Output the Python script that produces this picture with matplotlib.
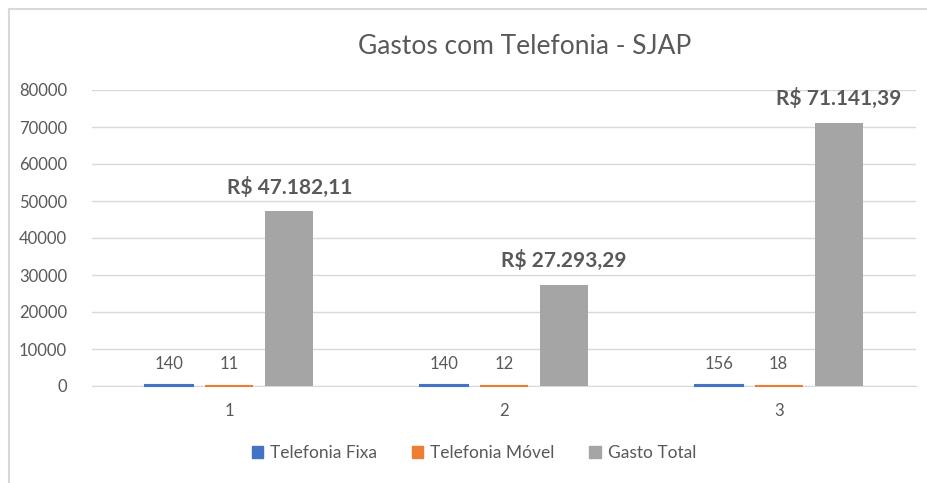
import numpy as np
import matplotlib
matplotlib.use("Agg")
import matplotlib.pyplot as plt
from matplotlib.lines import Line2D

plt.rcParams['font.family'] = ['Lato', 'DejaVu Sans']

categorias = ['1', '2', '3']
series = ['Telefonia Fixa', 'Telefonia Móvel', 'Gasto Total']
fixa = [140, 140, 156]
movel = [11, 12, 18]
total = [47182.11, 27293.29, 71141.39]
rotulos_total = ['R$ 47.182,11', 'R$ 27.293,29', 'R$ 71.141,39']
cores = ['#4472C4', '#ED7D31', '#A5A5A5']
yticks = [0, 10000, 20000, 30000, 40000, 50000, 60000, 70000, 80000]

cinza_txt = '#595959'

fig = plt.figure(figsize=(9.28, 4.83), dpi=100)
W, H = 928, 483
ax = fig.add_axes([92 / W, 1 - 386 / H, (916 - 92) / W, (386 - 90) / H])

x = np.arange(1, len(categorias) + 1)
larg = 0.175
passo = 0.218

valores = [fixa, movel, total]
for i, (vals, cor, nome) in enumerate(zip(valores, cores, series)):
    pos = x + (i - 1) * passo
    if i < 2:
        barras = ax.bar(pos, vals, larg, color=cor, edgecolor=cor, linewidth=1.5,
                        label=nome, clip_on=False, zorder=3)
        for p, v in zip(pos, vals):
            ax.annotate(str(v), (p, v), xytext=(0, 10), textcoords='offset points',
                        ha='center', va='bottom', fontsize=12, color=cinza_txt)
    else:
        barras = ax.bar(pos, vals, larg, color=cor, label=nome, zorder=3)
        for p, v, r in zip(pos, vals, rotulos_total):
            ax.annotate(r, (p, v), xytext=(0, 10), textcoords='offset points',
                        ha='center', va='bottom', fontsize=15, fontweight='bold',
                        color=cinza_txt)

ax.set_xlim(0.5, 3.5)
ax.set_ylim(0, 80000)
ax.set_yticks(yticks)
ax.set_yticklabels([str(t) for t in yticks])
ax.set_xticks(x)
ax.set_xticklabels(categorias)
ax.grid(axis='y', color='#D9D9D9', linewidth=1)
ax.set_axisbelow(True)
for s in ['top', 'right', 'left']:
    ax.spines[s].set_visible(False)
ax.spines['bottom'].set_color('#D9D9D9')
ax.tick_params(axis='both', length=0, labelsize=12, colors=cinza_txt)
ax.tick_params(axis='y', pad=18)
ax.tick_params(axis='x', pad=12)

fig.text(525 / W, 1 - 46 / H, 'Gastos com Telefonia - SJAP', ha='center', va='center',
         fontsize=19, color=cinza_txt)

handles = [plt.Rectangle((0, 0), 1, 1, color=c) for c in cores]
leg = fig.legend(handles, series, loc='center', bbox_to_anchor=(474 / W, 1 - 453 / H),
                 ncol=3, frameon=False, fontsize=12.5, handlelength=0.65, handleheight=0.65,
                 handletextpad=0.4, columnspacing=2.0)
for t in leg.get_texts():
    t.set_color(cinza_txt)

# moldura do gráfico
fig.add_artist(Line2D([9 / W, 1], [1 - 9 / H, 1 - 9 / H], color='#D9D9D9', linewidth=1.5))
fig.add_artist(Line2D([9 / W, 9 / W], [0, 1 - 9 / H], color='#D9D9D9', linewidth=1.5))

fig.savefig('out.png', dpi=100)
